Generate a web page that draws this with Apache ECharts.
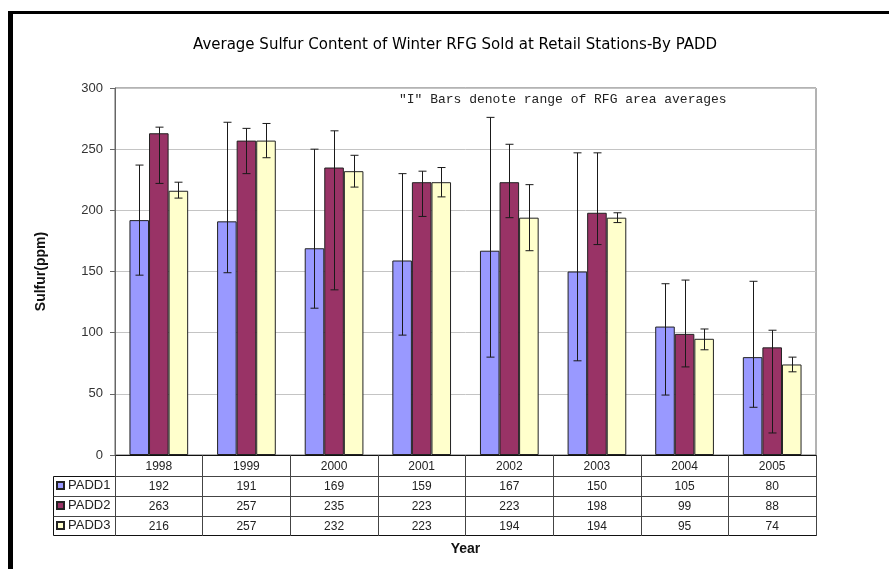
<!DOCTYPE html>
<html>
<head>
<meta charset="utf-8">
<script src="https://cdn.jsdelivr.net/npm/echarts@6/dist/echarts.min.js"></script>
<style>html,body{margin:0;padding:0;background:#fff;}#c{width:889px;height:569px;}</style>
</head>
<body>
<div id="c"></div>
<script>
const years = ['1998','1999','2000','2001','2002','2003','2004','2005'];
const padd1 = [192, 191, 169, 159, 167, 150, 105, 80];
const padd2 = [263, 257, 235, 223, 223, 198, 99, 88];
const padd3 = [216, 257, 232, 223, 194, 194, 95, 74];
const padd1Low  = [147, 149, 120, 98, 80, 77, 49, 39];
const padd1High = [237, 272, 250, 230, 276, 247, 140, 142];
const padd2Low  = [222, 230, 135, 195, 194, 172, 72, 18];
const padd2High = [268, 267, 265, 232, 254, 247, 143, 102];
const padd3Low  = [210, 243, 219, 211, 167, 190, 86, 68];
const padd3High = [223, 271, 245, 235, 221, 198, 103, 80];
const seriesNames = ['PADD1', 'PADD2', 'PADD3'];
const yTicks = [0, 50, 100, 150, 200, 250, 300];

const colors = ['#9999FF', '#993366', '#FFFFCC'];
const catGap = 0.33;
const lineCol = '#444';
const font = 'Liberation Sans';

function errRender(offsetIdx) {
  return function (params, api) {
    const x = api.value(0);
    const lo = api.coord([x, api.value(1)]);
    const hi = api.coord([x, api.value(2)]);
    const band = api.size([1, 0])[0];
    const bw = band * (1 - catGap) / 3;
    const cx = Math.round(lo[0] + offsetIdx * bw) + 0.5;
    const cap = 4;
    const st = { stroke: '#1a1a1a', lineWidth: 1 };
    return {
      type: 'group',
      children: [
        { type: 'line', shape: { x1: cx, y1: hi[1], x2: cx, y2: lo[1] }, style: st },
        { type: 'line', shape: { x1: cx - cap, y1: hi[1], x2: cx + cap, y2: hi[1] }, style: st },
        { type: 'line', shape: { x1: cx - cap, y1: lo[1], x2: cx + cap, y2: lo[1] }, style: st }
      ]
    };
  };
}

function rowAxis(arr, offset) {
  return {
    type: 'category', gridIndex: 0, position: 'bottom', offset: offset,
    data: years,
    axisLine: { show: true, lineStyle: { color: lineCol, width: 1 } },
    axisTick: { show: true, length: 20, inside: false, lineStyle: { color: lineCol } },
    axisLabel: { show: true, margin: 5, fontFamily: font, fontSize: 12, color: '#222',
      formatter: function (v, i) { return String(arr[i]); } },
    splitLine: { show: false }
  };
}

const chart = echarts.init(document.getElementById('c'), null, { renderer: 'canvas' });
const option = {
  backgroundColor: '#ffffff',
  animation: false,
  title: [
    { text: 'Average Sulfur Content of Winter RFG Sold at Retail Stations-By PADD',
      left: 188, top: 33,
      textStyle: { fontFamily: 'DejaVu Sans', fontSize: 15, fontWeight: 'normal', color: '#000' } },
    { text: '"I" Bars denote range of RFG area averages', left: 394, top: 88,
      textStyle: { fontFamily: 'Liberation Mono', fontSize: 13, fontWeight: 'normal', color: '#222' } }
  ],
  legend: seriesNames.map(function (n, i) {
    return {
      data: [n], left: 56, top: 479 + i * 20, padding: 0,
      icon: 'rect', itemWidth: 7, itemHeight: 7, itemGap: 3,
      selectedMode: false,
      textStyle: { fontFamily: font, fontSize: 13, color: '#222', padding: [0, 0, 0, -1] }
    };
  }),
  grid: { left: 115, right: 73, top: 88, bottom: 114, show: true,
    borderColor: '#666', borderWidth: 1, backgroundColor: '#fff' },
  xAxis: [
    {
      type: 'category', data: years, gridIndex: 0, position: 'bottom',
      axisLine: { show: true, lineStyle: { color: '#111' } },
      axisTick: { show: true, length: 21, lineStyle: { color: lineCol } },
      axisLabel: { margin: 6, fontFamily: font, fontSize: 12, color: '#222' },
      splitLine: { show: false }
    },
    rowAxis(padd1, 21),
    rowAxis(padd2, 41),
    rowAxis(padd3, 61),
    {
      type: 'category', data: years, gridIndex: 0, position: 'bottom', offset: 80,
      axisLine: { show: true, lineStyle: { color: '#111' } },
      axisTick: { show: false }, axisLabel: { show: false },
      name: 'Year', nameLocation: 'middle', nameGap: 7,
      nameTextStyle: { fontFamily: font, fontSize: 14, fontWeight: 'bold', color: '#111' }
    }
  ],
  yAxis: {
    type: 'value', min: yTicks[0], max: yTicks[yTicks.length - 1], interval: 50,
    name: 'Sulfur(ppm)', nameLocation: 'middle', nameGap: 67, nameRotate: 90,
    nameTextStyle: { fontFamily: font, fontSize: 14, fontWeight: 'bold', color: '#111' },
    axisLine: { show: true, lineStyle: { color: '#666' } },
    axisTick: { show: true, length: 5, lineStyle: { color: '#666' } },
    axisLabel: { margin: 12, fontFamily: font, fontSize: 13, color: '#333' },
    splitLine: { show: true, lineStyle: { color: '#c4c4c4', width: 1 } }
  },
  series: [
    { name: 'PADD1', type: 'bar', data: padd1, barCategoryGap: '33%', barGap: '0%',
      itemStyle: { color: colors[0], borderColor: '#222', borderWidth: 1 } },
    { name: 'PADD2', type: 'bar', data: padd2, barCategoryGap: '33%', barGap: '0%',
      itemStyle: { color: colors[1], borderColor: '#222', borderWidth: 1 } },
    { name: 'PADD3', type: 'bar', data: padd3, barCategoryGap: '33%', barGap: '0%',
      itemStyle: { color: colors[2], borderColor: '#222', borderWidth: 1 } },
    { type: 'custom', z: 5, renderItem: errRender(-1),
      data: years.map(function (y, i) { return [i, padd1Low[i], padd1High[i]]; }) },
    { type: 'custom', z: 5, renderItem: errRender(0),
      data: years.map(function (y, i) { return [i, padd2Low[i], padd2High[i]]; }) },
    { type: 'custom', z: 5, renderItem: errRender(1),
      data: years.map(function (y, i) { return [i, padd3Low[i], padd3High[i]]; }) }
  ],
  graphic: [
    { type: 'rect', shape: { x: 8, y: 11, width: 5, height: 558 }, style: { fill: '#000' }, silent: true },
    { type: 'rect', shape: { x: 8, y: 11, width: 881, height: 3 }, style: { fill: '#000' }, silent: true },
    { type: 'polyline', shape: { points: [[115, 476.5], [53.5, 476.5], [53.5, 535.5], [115, 535.5]] },
      style: { stroke: '#111', fill: null, lineWidth: 1 }, silent: true },
    { type: 'line', shape: { x1: 53.5, y1: 496.5, x2: 115, y2: 496.5 }, style: { stroke: lineCol, lineWidth: 1 }, silent: true },
    { type: 'line', shape: { x1: 53.5, y1: 516.5, x2: 115, y2: 516.5 }, style: { stroke: lineCol, lineWidth: 1 }, silent: true }
  ]
};
chart.setOption(option);
</script>
</body>
</html>
